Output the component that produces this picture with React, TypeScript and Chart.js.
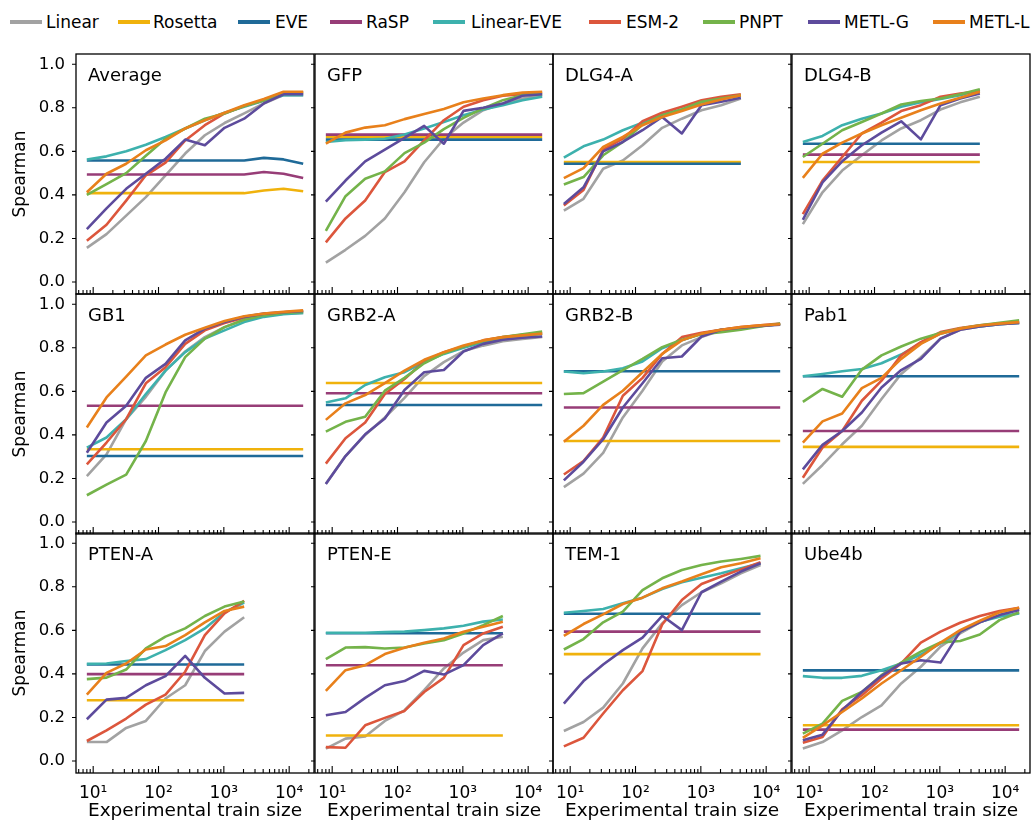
import React, { useEffect, useRef } from "react";
import { Chart, registerables } from "chart.js";

Chart.register(...registerables);

const FONT = "'DejaVu Sans', sans-serif";

// ---------------- data ----------------
const SERIES = ["Linear", "Rosetta", "EVE", "RaSP", "Linear-EVE", "ESM-2", "PNPT", "METL-G", "METL-L"];
const COLORS = ["#a2a2a2", "#f0b20c", "#1f6a98", "#973d77", "#3db1ad", "#dc563c", "#74b34a", "#5d4b9c", "#e8801b"];
const TRAIN_SIZES = [8, 16, 32, 64, 128, 256, 512, 1024, 2048, 4096, 8192, 16384];
const X_TICKS = [10, 100, 1000, 10000];
const X_TICK_LABELS = ["10¹", "10²", "10³", "10⁴"];
const Y_TICKS = [0, 0.2, 0.4, 0.6, 0.8, 1.0];
const Y_TICK_LABELS = ["0.0", "0.2", "0.4", "0.6", "0.8", "1.0"];
const PANEL_NAMES = ["Average", "GFP", "DLG4-A", "DLG4-B", "GB1", "GRB2-A", "GRB2-B", "Pab1", "PTEN-A", "PTEN-E", "TEM-1", "Ube4b"];

// each row in SERIES order; a single number = zero-shot baseline constant over train size; null = not available
const AVERAGE = [
  [0.157, 0.22, 0.305, 0.39, 0.49, 0.59, 0.674, 0.73, 0.774, 0.82, 0.858, 0.858],
  [0.408, 0.408, 0.408, 0.408, 0.408, 0.408, 0.408, 0.408, 0.408, 0.42, 0.428, 0.417],
  [0.558, 0.558, 0.558, 0.558, 0.558, 0.558, 0.558, 0.558, 0.558, 0.57, 0.563, 0.543],
  [0.494, 0.494, 0.494, 0.494, 0.494, 0.494, 0.494, 0.494, 0.494, 0.505, 0.497, 0.478],
  [0.562, 0.577, 0.6, 0.63, 0.666, 0.705, 0.743, 0.777, 0.805, 0.832, 0.858, 0.858],
  [0.19, 0.263, 0.374, 0.49, 0.548, 0.65, 0.72, 0.774, 0.808, 0.835, 0.87, 0.87],
  [0.4, 0.45, 0.5, 0.58, 0.658, 0.705, 0.75, 0.774, 0.808, 0.835, 0.87, 0.87],
  [0.243, 0.338, 0.428, 0.497, 0.566, 0.654, 0.628, 0.708, 0.75, 0.82, 0.862, 0.862],
  [0.412, 0.497, 0.543, 0.605, 0.65, 0.705, 0.743, 0.777, 0.812, 0.84, 0.874, 0.874],
];
const GFP = [
  [0.089, 0.148, 0.212, 0.292, 0.412, 0.55, 0.658, 0.732, 0.789, 0.82, 0.843, 0.858],
  0.665,
  0.654,
  0.677,
  [0.643, 0.651, 0.654, 0.658, 0.677, 0.705, 0.735, 0.766, 0.792, 0.812, 0.835, 0.851],
  [0.182, 0.292, 0.374, 0.505, 0.554, 0.65, 0.743, 0.805, 0.835, 0.855, 0.862, 0.87],
  [0.235, 0.394, 0.474, 0.508, 0.592, 0.64, 0.702, 0.754, 0.797, 0.835, 0.858, 0.862],
  [0.369, 0.466, 0.554, 0.608, 0.662, 0.717, 0.635, 0.786, 0.8, 0.82, 0.855, 0.862],
  [0.635, 0.686, 0.709, 0.72, 0.748, 0.771, 0.794, 0.825, 0.843, 0.858, 0.87, 0.874],
];
const DLG4_A = [
  [0.328, 0.382, 0.52, 0.558, 0.628, 0.708, 0.75, 0.789, 0.812, 0.843],
  0.551,
  0.543,
  null,
  [0.571, 0.623, 0.654, 0.697, 0.732, 0.769, 0.792, 0.825, 0.843, 0.855],
  [0.351, 0.423, 0.608, 0.658, 0.738, 0.777, 0.805, 0.835, 0.851, 0.862],
  [0.448, 0.482, 0.582, 0.643, 0.723, 0.766, 0.792, 0.828, 0.843, 0.858],
  [0.358, 0.435, 0.6, 0.643, 0.697, 0.758, 0.682, 0.812, 0.828, 0.846],
  [0.477, 0.523, 0.62, 0.666, 0.72, 0.758, 0.785, 0.815, 0.838, 0.858],
];
const DLG4_B = [
  [0.266, 0.412, 0.512, 0.582, 0.65, 0.705, 0.743, 0.792, 0.825, 0.851],
  0.551,
  0.635,
  0.585,
  [0.643, 0.671, 0.72, 0.75, 0.774, 0.805, 0.825, 0.84, 0.858, 0.882],
  [0.312, 0.466, 0.574, 0.682, 0.732, 0.785, 0.812, 0.851, 0.866, 0.877],
  [0.574, 0.635, 0.697, 0.735, 0.774, 0.815, 0.831, 0.843, 0.862, 0.885],
  [0.286, 0.458, 0.554, 0.628, 0.686, 0.738, 0.655, 0.812, 0.843, 0.866],
  [0.478, 0.589, 0.64, 0.682, 0.72, 0.754, 0.789, 0.82, 0.846, 0.874],
];
const GB1 = [
  [0.211, 0.311, 0.472, 0.575, 0.695, 0.783, 0.849, 0.895, 0.929, 0.949, 0.957, 0.96],
  0.334,
  0.303,
  0.534,
  [0.342, 0.388, 0.472, 0.588, 0.695, 0.78, 0.842, 0.88, 0.918, 0.942, 0.954, 0.96],
  [0.265, 0.365, 0.472, 0.637, 0.711, 0.818, 0.88, 0.914, 0.938, 0.954, 0.963, 0.969],
  [0.123, 0.172, 0.218, 0.372, 0.595, 0.757, 0.842, 0.895, 0.929, 0.949, 0.96, 0.965],
  [0.318, 0.457, 0.534, 0.662, 0.726, 0.834, 0.888, 0.918, 0.942, 0.957, 0.963, 0.969],
  [0.434, 0.572, 0.668, 0.765, 0.815, 0.86, 0.892, 0.923, 0.945, 0.957, 0.965, 0.972],
];
const GRB2_A = [
  [0.176, 0.303, 0.4, 0.48, 0.57, 0.67, 0.734, 0.785, 0.81, 0.83, 0.84, 0.85],
  0.638,
  0.537,
  0.591,
  [0.549, 0.568, 0.629, 0.665, 0.688, 0.734, 0.772, 0.8, 0.826, 0.842, 0.852, 0.865],
  [0.268, 0.385, 0.457, 0.588, 0.657, 0.737, 0.78, 0.806, 0.834, 0.849, 0.86, 0.868],
  [0.415, 0.46, 0.483, 0.603, 0.662, 0.729, 0.775, 0.806, 0.831, 0.849, 0.862, 0.875],
  [0.175, 0.303, 0.403, 0.475, 0.606, 0.688, 0.698, 0.783, 0.818, 0.837, 0.846, 0.852],
  [0.469, 0.545, 0.583, 0.638, 0.695, 0.745, 0.78, 0.811, 0.834, 0.849, 0.857, 0.865],
];
const GRB2_B = [
  [0.16, 0.222, 0.318, 0.48, 0.603, 0.737, 0.811, 0.849, 0.88, 0.892, 0.9, 0.908],
  0.372,
  0.692,
  0.526,
  [0.691, 0.683, 0.691, 0.706, 0.737, 0.798, 0.834, 0.865, 0.883, 0.892, 0.9, 0.908],
  [0.218, 0.28, 0.388, 0.58, 0.662, 0.772, 0.849, 0.869, 0.883, 0.895, 0.903, 0.911],
  [0.588, 0.592, 0.645, 0.698, 0.749, 0.803, 0.837, 0.862, 0.872, 0.883, 0.898, 0.911],
  [0.191, 0.277, 0.38, 0.526, 0.637, 0.752, 0.76, 0.852, 0.883, 0.892, 0.9, 0.906],
  [0.369, 0.442, 0.538, 0.603, 0.688, 0.772, 0.834, 0.865, 0.883, 0.895, 0.903, 0.908],
];
const PAB1 = [
  [0.175, 0.262, 0.357, 0.442, 0.565, 0.68, 0.757, 0.842, 0.883, 0.898, 0.908, 0.914],
  0.345,
  0.669,
  0.418,
  [0.669, 0.68, 0.692, 0.703, 0.729, 0.769, 0.822, 0.865, 0.888, 0.898, 0.908, 0.914],
  [0.203, 0.342, 0.418, 0.557, 0.649, 0.765, 0.826, 0.872, 0.891, 0.903, 0.911, 0.918],
  [0.552, 0.611, 0.575, 0.7, 0.765, 0.806, 0.842, 0.868, 0.888, 0.903, 0.915, 0.926],
  [0.242, 0.354, 0.418, 0.503, 0.618, 0.698, 0.749, 0.842, 0.883, 0.898, 0.908, 0.914],
  [0.365, 0.462, 0.498, 0.615, 0.662, 0.749, 0.818, 0.865, 0.888, 0.902, 0.911, 0.918],
];
const PTEN_A = [
  [0.087, 0.087, 0.152, 0.184, 0.287, 0.348, 0.505, 0.594, 0.66],
  0.279,
  0.443,
  0.399,
  [0.446, 0.448, 0.459, 0.468, 0.509, 0.555, 0.609, 0.683, 0.727],
  [0.092, 0.141, 0.195, 0.259, 0.305, 0.41, 0.578, 0.678, 0.736],
  [0.376, 0.383, 0.42, 0.517, 0.571, 0.609, 0.666, 0.709, 0.732],
  [0.192, 0.282, 0.29, 0.348, 0.39, 0.483, 0.382, 0.31, 0.313],
  [0.305, 0.405, 0.448, 0.512, 0.528, 0.578, 0.637, 0.689, 0.709],
];
const PTEN_E = [
  [0.057, 0.103, 0.113, 0.184, 0.233, 0.325, 0.425, 0.498, 0.555, 0.571],
  0.117,
  0.587,
  0.44,
  [0.589, 0.589, 0.589, 0.592, 0.594, 0.601, 0.609, 0.621, 0.64, 0.65],
  [0.064, 0.061, 0.164, 0.198, 0.23, 0.317, 0.382, 0.532, 0.586, 0.617],
  [0.468, 0.521, 0.523, 0.517, 0.521, 0.54, 0.555, 0.586, 0.624, 0.666],
  [0.21, 0.225, 0.29, 0.348, 0.367, 0.414, 0.397, 0.44, 0.532, 0.586],
  [0.322, 0.417, 0.44, 0.491, 0.52, 0.543, 0.563, 0.594, 0.617, 0.64],
];
const TEM_1 = [
  [0.138, 0.179, 0.245, 0.356, 0.517, 0.632, 0.716, 0.775, 0.816, 0.862, 0.9],
  0.491,
  0.676,
  0.594,
  [0.681, 0.689, 0.698, 0.724, 0.75, 0.79, 0.821, 0.842, 0.862, 0.885, 0.908],
  [0.067, 0.107, 0.218, 0.325, 0.413, 0.627, 0.739, 0.813, 0.847, 0.88, 0.913],
  [0.512, 0.56, 0.637, 0.686, 0.785, 0.839, 0.877, 0.9, 0.916, 0.928, 0.942],
  [0.264, 0.367, 0.443, 0.509, 0.567, 0.667, 0.601, 0.775, 0.824, 0.87, 0.908],
  [0.575, 0.629, 0.673, 0.721, 0.75, 0.793, 0.824, 0.858, 0.89, 0.908, 0.931],
];
const UBE4B = [
  [0.057, 0.087, 0.141, 0.202, 0.256, 0.356, 0.433, 0.525, 0.586, 0.637, 0.67, 0.698],
  0.164,
  0.416,
  0.144,
  [0.39, 0.382, 0.382, 0.391, 0.417, 0.448, 0.489, 0.54, 0.594, 0.64, 0.663, 0.678],
  [0.084, 0.11, 0.238, 0.302, 0.379, 0.448, 0.544, 0.594, 0.635, 0.666, 0.689, 0.704],
  [0.126, 0.172, 0.276, 0.317, 0.394, 0.452, 0.502, 0.544, 0.551, 0.581, 0.647, 0.683],
  [0.095, 0.121, 0.233, 0.317, 0.391, 0.448, 0.463, 0.452, 0.594, 0.637, 0.67, 0.693],
  [0.106, 0.164, 0.225, 0.287, 0.356, 0.417, 0.479, 0.544, 0.601, 0.644, 0.683, 0.704],
];
const PANEL_VALUES: any[] = [AVERAGE, GFP, DLG4_A, DLG4_B, GB1, GRB2_A, GRB2_B, PAB1, PTEN_A, PTEN_E, TEM_1, UBE4B];

// ---------------- layout ----------------
const FIG_W = 1031;
const FIG_H = 821;
const COL_LEFT = [76, 315, 553, 792];
const ROW_TOP = [54, 294, 533];
const PLOT_W = 238;
const PLOT_H = 240;
const EXT = 12;
const X_MIN = Math.pow(10, 0.737);
const X_MAX = Math.pow(10, 4.38);
const Y_MIN = -0.055;
const Y_MAX = 1.047;

const LEGEND_LINE_X = [10, 118, 238, 330, 433, 589, 703, 808, 933];
const LEGEND_TEXT_X = [46, 153, 275, 366, 471, 626, 739, 844, 969];

const framePlugin = {
  id: "frame",
  afterDraw(chart: any) {
    const { ctx, chartArea: a, scales } = chart;
    const name = chart.options.plugins.frame.name;
    ctx.save();
    ctx.strokeStyle = "#000";
    ctx.lineWidth = 1.1;
    ctx.beginPath();
    for (const v of Y_TICKS) {
      const y = scales.y.getPixelForValue(v);
      ctx.moveTo(a.left - 4, y);
      ctx.lineTo(a.left, y);
    }
    for (let k = 0; k <= 4; k++) {
      for (let m = 1; m <= 9; m++) {
        const v = m * Math.pow(10, k);
        if (v < X_MIN || v > X_MAX) continue;
        const x = scales.x.getPixelForValue(v);
        const len = m === 1 ? 7 : 4;
        ctx.moveTo(x, a.bottom);
        ctx.lineTo(x, a.bottom - len);
      }
    }
    ctx.stroke();
    ctx.lineWidth = 1.3;
    ctx.strokeRect(a.left, a.top, a.right - a.left, a.bottom - a.top);
    ctx.font = `18px ${FONT}`;
    ctx.fillStyle = "#000";
    ctx.textAlign = "left";
    ctx.textBaseline = "alphabetic";
    ctx.fillText(name, a.left + 12, a.top + 27);
    ctx.restore();
  },
};

function zeroPadding(s: any) {
  s.paddingLeft = 0;
  s.paddingRight = 0;
  s.paddingTop = 0;
  s.paddingBottom = 0;
}

function Panel({ idx }: { idx: number }) {
  const ref = useRef<HTMLCanvasElement>(null);
  const r = Math.floor(idx / 4);
  const c = idx % 4;
  const showY = c === 0;
  const showX = r === 2;
  const padL = showY ? COL_LEFT[0] : EXT;
  const padB = showX ? FIG_H - (ROW_TOP[2] + PLOT_H) : EXT;
  const cw = padL + PLOT_W + EXT;
  const ch = EXT + PLOT_H + padB;
  const left = COL_LEFT[c] - padL;
  const top = ROW_TOP[r] - EXT;

  useEffect(() => {
    const values = PANEL_VALUES[idx];
    const n = values[0].length;
    const sizes = TRAIN_SIZES.slice(0, n);
    const datasets: any[] = [];
    SERIES.forEach((s, i) => {
      const v = values[i];
      if (v === null || v === undefined) return;
      const ys: number[] = typeof v === "number" ? sizes.map(() => v) : v;
      datasets.push({
        label: s,
        data: ys.map((y, j) => ({ x: sizes[j], y })),
        borderColor: COLORS[i],
        backgroundColor: COLORS[i],
        borderWidth: 2.6,
        pointRadius: 0,
        fill: false,
        tension: 0,
        borderJoinStyle: "round",
        order: SERIES.length - 1 - i,
      });
    });
    const chart = new Chart(ref.current as HTMLCanvasElement, {
      type: "line",
      data: { datasets },
      plugins: [framePlugin as any],
      options: {
        animation: false,
        responsive: false,
        maintainAspectRatio: false,
        events: [],
        layout: {
          autoPadding: false,
          padding: { left: showY ? 0 : EXT, top: EXT, right: EXT, bottom: showX ? 0 : EXT },
        },
        plugins: {
          legend: { display: false },
          tooltip: { enabled: false },
          frame: { name: PANEL_NAMES[idx] },
        } as any,
        scales: {
          x: {
            type: "logarithmic",
            min: X_MIN,
            max: X_MAX,
            display: showX,
            grid: { display: false, drawTicks: false },
            border: { display: false },
            afterBuildTicks: (s: any) => {
              s.ticks = X_TICKS.map((v) => ({ value: v }));
            },
            afterFit: (s: any) => {
              s.height = showX ? padB : 0;
              zeroPadding(s);
            },
            ticks: {
              autoSkip: false,
              maxRotation: 0,
              minRotation: 0,
              padding: 10,
              color: "#000",
              font: { family: FONT, size: 17 },
              callback: (_v: any, i: number) => X_TICK_LABELS[i],
            },
            title: {
              display: true,
              text: "Experimental train size",
              color: "#000",
              font: { family: FONT, size: 18.5 },
              padding: { top: 0, bottom: -1 },
            },
          },
          y: {
            type: "linear",
            min: Y_MIN,
            max: Y_MAX,
            display: showY,
            grid: { display: false, drawTicks: false },
            border: { display: false },
            afterBuildTicks: (s: any) => {
              s.ticks = Y_TICKS.map((v) => ({ value: v }));
            },
            afterFit: (s: any) => {
              s.width = showY ? padL : 0;
              zeroPadding(s);
            },
            ticks: {
              padding: 11,
              color: "#000",
              font: { family: FONT, size: 16.5 },
              callback: (_v: any, i: number) => Y_TICK_LABELS[i],
            },
            title: {
              display: true,
              text: "Spearman",
              color: "#000",
              font: { family: FONT, size: 17 },
              padding: { top: 10, bottom: 0 },
            },
          },
        },
      } as any,
    });
    return () => chart.destroy();
  }, [idx]);

  return (
    <canvas
      ref={ref}
      width={cw}
      height={ch}
      style={{ position: "absolute", left, top, width: cw, height: ch }}
    />
  );
}

export default function App() {
  return (
    <div
      style={{
        position: "absolute",
        left: 0,
        top: 0,
        width: FIG_W,
        height: FIG_H,
        overflow: "hidden",
        background: "#fff",
        fontFamily: FONT,
      }}
    >
      {SERIES.map((s, i) => (
        <React.Fragment key={s}>
          <div
            style={{
              position: "absolute",
              left: LEGEND_LINE_X[i],
              top: 20,
              width: 32,
              height: 4,
              background: COLORS[i],
            }}
          />
          <div
            style={{
              position: "absolute",
              left: LEGEND_TEXT_X[i],
              top: 10,
              fontSize: 17,
              lineHeight: "24px",
              color: "#000",
              whiteSpace: "nowrap",
            }}
          >
            {s}
          </div>
        </React.Fragment>
      ))}
      {PANEL_NAMES.map((_, i) => (
        <Panel key={i} idx={i} />
      ))}
    </div>
  );
}
